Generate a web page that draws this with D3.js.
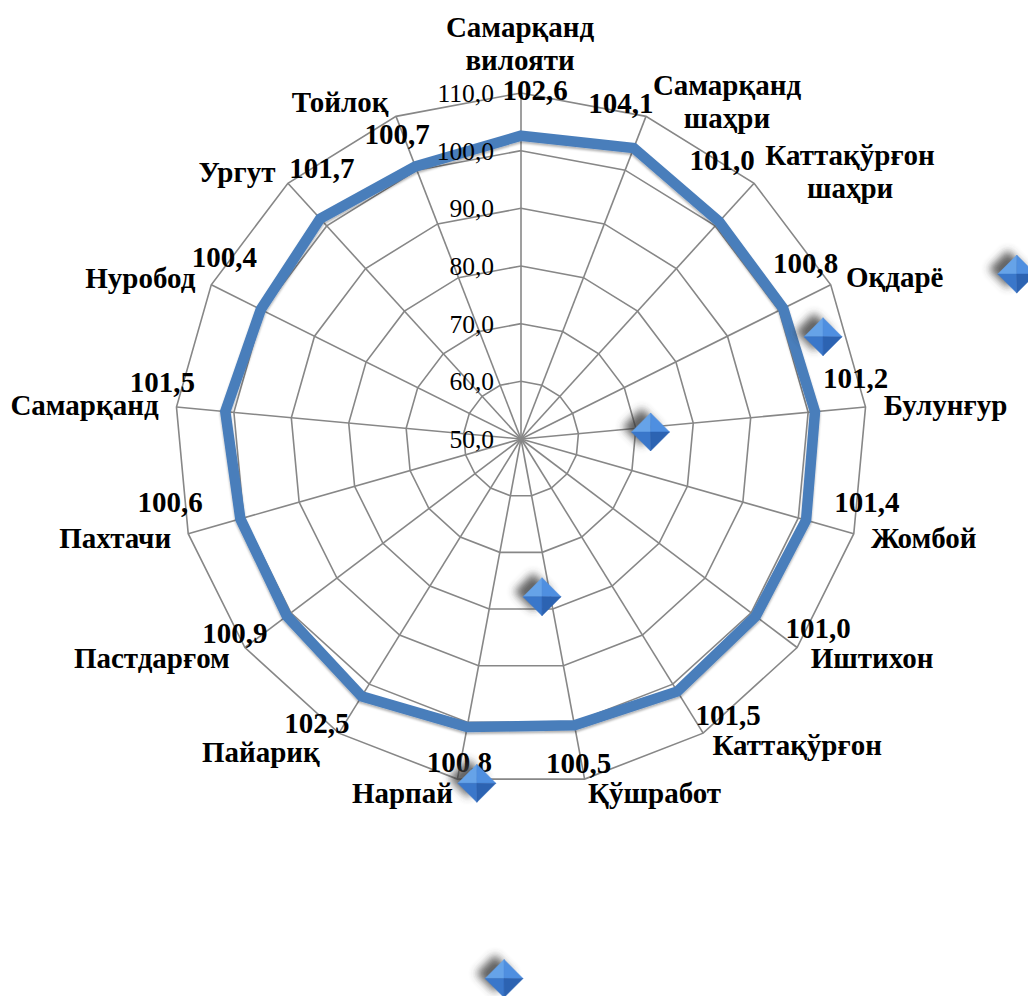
<!DOCTYPE html>
<html>
<head>
<meta charset="utf-8">
<script src="https://cdn.jsdelivr.net/npm/d3@7"></script>
<style>
  html, body { margin: 0; padding: 0; background: #fff; }
  svg { display: block; }
  text { font-family: "Liberation Serif", "Times New Roman", Times, serif; }
</style>
</head>
<body>
<div id="chart"></div>
<script>
// ---- data ----
const categories = [
  ["Самарқанд", "вилояти"],
  ["Самарқанд", "шаҳри"],
  ["Каттақўрғон", "шаҳри"],
  ["Оқдарё"],
  ["Булунғур"],
  ["Жомбой"],
  ["Иштихон"],
  ["Каттақўрғон"],
  ["Қўшработ"],
  ["Нарпай"],
  ["Пайариқ"],
  ["Пастдарғом"],
  ["Пахтачи"],
  ["Самарқанд"],
  ["Нуробод"],
  ["Ургут"],
  ["Тойлоқ"]
];
const values = [102.6, 104.1, 101.0, 100.8, 101.2, 101.4, 101.0, 101.5, 100.5, 100.8, 102.5, 100.9, 100.6, 101.5, 100.4, 101.7, 100.7];
const tickValues = [50, 60, 70, 80, 90, 100, 110];
const tickLabels = ["50,0", "60,0", "70,0", "80,0", "90,0", "100,0", "110,0"];
// stray diamond markers (polar: angle in degrees clockwise from top, value on radial scale)
const markerAngles = [71.6, 71.3, 86.9, 172.4, 187.3, 181.8];
const markerValues = [140.6, 105.3, 72.5, 77.6, 110.2, 143.6];

// ---- layout (label offsets from outer-ring vertex, px) ----
const catLabelOffsets = [
  [-1, -56], [81, -21], [96, -18], [64, 2], [80, 8], [70, 14], [75, 20], [94, 22],
  [70, 24], [-55, 24], [-78, 29], [-93, 20], [-73, 14], [-92, 8], [-71, 3], [-51, -1], [-56, -4]
];
const valLabelOffsets = [
  [14, 7], [-25, -3], [-32, -13], [-25, -12], [-10, -19], [13, -22], [21, -10], [25, -8],
  [-6, -6], [2, -7], [-22, 0], [-10, -5], [-18, -22], [-14, -15], [13, -18], [34, -5], [1, 28]
];

const W = 1028, H = 996;
const cx = 521, cy = 439, R = 346;
const FONT = '"Liberation Serif", "Times New Roman", Times, serif';

const svg = d3.select("#chart").append("svg").attr("width", W).attr("height", H);
const defs = svg.append("defs");
const fb = defs.append("filter").attr("id", "blur").attr("x", "-100%").attr("y", "-100%").attr("width", "300%").attr("height", "300%");
fb.append("feGaussianBlur").attr("stdDeviation", 4);
const f2 = defs.append("filter").attr("id", "lshadow").attr("x", "-10%").attr("y", "-10%").attr("width", "120%").attr("height", "120%");
f2.append("feDropShadow").attr("dx", 0).attr("dy", 2).attr("stdDeviation", 1.2)
  .attr("flood-color", "#000").attr("flood-opacity", 0.3);

const g = svg.append("g").attr("transform", `translate(${cx},${cy})`);

const n = categories.length;
const r = d3.scaleLinear().domain([50, 110]).range([0, R]);
const a = d3.scaleLinear().domain([0, n]).range([0, 2 * Math.PI]);
const pt = (i, v) => [Math.sin(a(i)) * r(v), -Math.cos(a(i)) * r(v)];

const gridColor = "#878787";

// rings
const ringLine = d3.lineRadial().angle(d => a(d[0])).radius(d => r(d[1])).curve(d3.curveLinearClosed);
g.selectAll("path.ring").data(tickValues.slice(1)).join("path")
  .attr("class", "ring")
  .attr("d", t => ringLine(d3.range(n).map(i => [i, t])))
  .attr("fill", "none").attr("stroke", gridColor).attr("stroke-width", 1.6);

// spokes
g.selectAll("line.spoke").data(d3.range(n)).join("line")
  .attr("class", "spoke")
  .attr("x1", 0).attr("y1", 0)
  .attr("x2", i => pt(i, 110)[0]).attr("y2", i => pt(i, 110)[1])
  .attr("stroke", gridColor).attr("stroke-width", 1.6);

// data line
const dataLine = d3.lineRadial().angle((d, i) => a(i)).radius(d => r(d)).curve(d3.curveLinearClosed);
g.append("path")
  .attr("d", dataLine(values))
  .attr("fill", "none")
  .attr("stroke", "#4a7ebb")
  .attr("stroke-width", 10.5)
  .attr("stroke-linejoin", "miter")
  .attr("filter", "url(#lshadow)");

// tick labels (drawn above the line)
g.selectAll("text.tick").data(tickValues).join("text")
  .attr("class", "tick")
  .attr("x", -27).attr("y", t => -r(t) + 9)
  .attr("text-anchor", "end")
  .attr("font-family", FONT)
  .attr("font-size", 25.5)
  .attr("fill", "#000")
  .text((t, i) => tickLabels[i]);

// value labels
g.selectAll("text.val").data(values).join("text")
  .attr("class", "val")
  .attr("x", (v, i) => pt(i, 110)[0] + valLabelOffsets[i][0])
  .attr("y", (v, i) => pt(i, 110)[1] + valLabelOffsets[i][1])
  .attr("text-anchor", "middle")
  .attr("font-family", FONT)
  .attr("font-size", 29).attr("font-weight", "bold")
  .attr("fill", "#000")
  .text(v => d3.format(".1f")(v).replace(".", ","));

// category labels
const cl = g.selectAll("text.cat").data(categories).join("text")
  .attr("class", "cat")
  .attr("text-anchor", "middle")
  .attr("font-family", FONT)
  .attr("font-size", 29).attr("font-weight", "bold")
  .attr("fill", "#000")
  .attr("x", (c, i) => pt(i, 110)[0] + catLabelOffsets[i][0])
  .attr("y", (c, i) => pt(i, 110)[1] + catLabelOffsets[i][1]);
cl.each(function(c, i) {
  const x = pt(i, 110)[0] + catLabelOffsets[i][0];
  d3.select(this).selectAll("tspan").data(c).join("tspan")
    .attr("x", x).attr("dy", (d, j) => j === 0 ? 0 : 33).text(d => d);
});

// diamond markers
const s = 19;
const diamond = `M0,${-s}L${s},0L0,${s}L${-s},0Z`;
const mk = g.selectAll("g.mk").data(markerValues).join("g")
  .attr("class", "mk")
  .attr("transform", (v, i) => {
    const ang = markerAngles[i] * Math.PI / 180;
    return `translate(${Math.sin(ang) * r(v)},${-Math.cos(ang) * r(v)})`;
  });
mk.append("path")
  .attr("d", diamond)
  .attr("transform", "translate(-9,-5)")
  .attr("fill", "#3a3a3a").attr("opacity", 0.8)
  .attr("filter", "url(#blur)");
const facets = [
  { p: [[0, -s], [-s, 0], [0, 0]], c: "#66a3e8" },
  { p: [[0, -s], [s, 0], [0, 0]], c: "#4f8fe0" },
  { p: [[-s, 0], [0, s], [0, 0]], c: "#3a77ca" },
  { p: [[s, 0], [0, s], [0, 0]], c: "#2c63b2" }
];
mk.selectAll("path.facet").data(facets).join("path")
  .attr("class", "facet")
  .attr("d", d => "M" + d.p.map(q => q.join(",")).join("L") + "Z")
  .attr("fill", d => d.c)
  .attr("stroke", d => d.c).attr("stroke-width", 0.5);
</script>
</body>
</html>
